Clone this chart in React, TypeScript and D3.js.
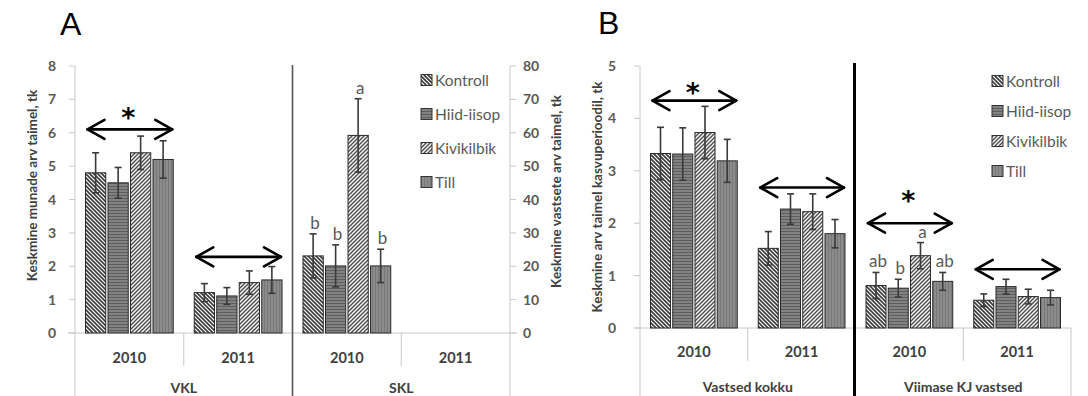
import React from "react";
import * as d3 from "d3";

// Treatments and seasons shared by every panel
const treatments = ["Kontroll", "Hiid-iisop", "Kivikilbik", "Till"];
const years = ["2010", "2011"];

// A, left axis: eggs per plant (VKL)
const vklMeans = [[4.8, 4.5, 5.4, 5.2], [1.21, 1.11, 1.51, 1.59]];
const vklErrors = [[0.6, 0.46, 0.5, 0.56], [0.27, 0.25, 0.35, 0.4]];
const vklArrows = [6.1, 2.28];
const vklStar = 6.6;

// A, right axis: larvae per plant (SKL); no 2011 data
const sklMeans = [[23.1, 20.1, 59.2, 20.1], []];
const sklErrors = [[6.6, 6.3, 11, 5], []];
const sklLetters = [["b", "b", "a", "b"], []];

// B: larvae per plant over the season
const kokkuMeans = [[3.33, 3.32, 3.73, 3.19], [1.52, 2.27, 2.22, 1.8]];
const kokkuErrors = [[0.5, 0.5, 0.5, 0.41], [0.32, 0.29, 0.34, 0.27]];
const kokkuArrows = [4.34, 2.68];
const kokkuStar = 4.58;

const viimaseMeans = [[0.81, 0.76, 1.38, 0.89], [0.53, 0.79, 0.6, 0.58]];
const viimaseErrors = [[0.25, 0.17, 0.25, 0.17], [0.12, 0.14, 0.14, 0.14]];
const viimaseLetters = [["ab", "b", "a", "ab"], []];
const viimaseArrows = [2.0, 1.12];
const viimaseStar = 2.51;

// Axis ticks
const ticksEggs = d3.range(0, 9, 1);
const ticksSkl = d3.range(0, 81, 10);
const ticksB = d3.range(0, 6, 1);

const FONT = "Lato, 'Open Sans', 'Liberation Sans', sans-serif";
const AXIS = "#c8c8c8";
const TXT = "#595959";
const patternIds = ["pKontroll", "pHiid", "pKivi", "pTill"];

type Series = {
  group: string;
  means: number[][];
  errors: number[][];
  letters?: string[][];
  arrows?: number[];
  star?: number;
  y: d3.ScaleLinear<number, number>;
};

function Patterns() {
  return (
    <defs>
      <pattern id="pKontroll" patternUnits="userSpaceOnUse" width={4} height={4}>
        <rect width={4} height={4} fill="#ffffff" />
        <path d="M-1,-1 L5,5 M3,-1 L5,1 M-1,3 L1,5" stroke="#3a3a3a" strokeWidth={1.6} />
      </pattern>
      <pattern id="pHiid" patternUnits="userSpaceOnUse" width={4} height={3}>
        <rect width={4} height={3} fill="#828282" />
        <rect y={0} width={4} height={1} fill="#5e5e5e" />
      </pattern>
      <pattern id="pKivi" patternUnits="userSpaceOnUse" width={4} height={4}>
        <rect width={4} height={4} fill="#f4f4f4" />
        <path d="M-1,5 L5,-1 M-1,1 L1,-1 M3,5 L5,3" stroke="#4a4a4a" strokeWidth={1.3} />
      </pattern>
      <pattern id="pTill" patternUnits="userSpaceOnUse" width={3} height={4}>
        <rect width={3} height={4} fill="#8c8c8c" />
        <rect x={0} width={1} height={4} fill="#777777" />
      </pattern>
    </defs>
  );
}

function Arrow({ x1, x2, y }: { x1: number; x2: number; y: number }) {
  const hx = 17;
  const hy = 9.5;
  return (
    <g stroke="#000" strokeWidth={2.6} fill="none" strokeLinecap="round" strokeLinejoin="round">
      <line x1={x1} x2={x2} y1={y} y2={y} />
      <path d={`M${x1 + hx},${y - hy} L${x1},${y} L${x1 + hx},${y + hy}`} />
      <path d={`M${x2 - hx},${y - hy} L${x2},${y} L${x2 - hx},${y + hy}`} />
    </g>
  );
}

function Categories({
  left,
  right,
  y0,
  series,
  yearBaseline,
  groupBaseline,
}: {
  left: number;
  right: number;
  y0: number;
  series: Series[];
  yearBaseline: number;
  groupBaseline: number;
}) {
  const cats = series.flatMap((s) => years.map((yr) => `${s.group}|${yr}`));
  const xCat = d3.scaleBand<string>().domain(cats).range([left, right]);
  const cw = xCat.bandwidth();
  const inner = d3.scaleBand<string>().domain(treatments).range([10.5, cw - 10.5]).paddingInner(0.1);
  const bw = inner.bandwidth();

  return (
    <g>
      {series.map((s) => (
        <g key={s.group}>
          {years.map((yr, yi) => {
            const cx = xCat(`${s.group}|${yr}`)!;
            const means = s.means[yi];
            const errs = s.errors[yi];
            const letters = s.letters ? s.letters[yi] : [];
            return (
              <g key={yr}>
                {means.map((m, ti) => {
                  const bx = cx + inner(treatments[ti])!;
                  const mid = bx + bw / 2;
                  const top = s.y(m + errs[ti]);
                  const bot = s.y(m - errs[ti]);
                  return (
                    <g key={ti}>
                      <rect
                        x={bx}
                        y={s.y(m)}
                        width={bw}
                        height={y0 - s.y(m)}
                        fill={`url(#${patternIds[ti]})`}
                        stroke="#2a2a2a"
                        strokeWidth={1}
                      />
                      <g stroke="#3a3a3a" strokeWidth={1.6}>
                        <line x1={mid} x2={mid} y1={top} y2={bot} />
                        <line x1={mid - 3.5} x2={mid + 3.5} y1={top} y2={top} />
                        <line x1={mid - 3.5} x2={mid + 3.5} y1={bot} y2={bot} />
                      </g>
                      {letters && letters[ti] ? (
                        <text
                          x={mid + 2}
                          y={top - 5}
                          textAnchor="middle"
                          fontFamily={FONT}
                          fontSize={17}
                          fill={TXT}
                        >
                          {letters[ti]}
                        </text>
                      ) : null}
                    </g>
                  );
                })}
                {s.arrows ? (
                  <Arrow
                    x1={cx + inner(treatments[0])! + 2}
                    x2={cx + inner(treatments[3])! + bw - 1}
                    y={s.y(s.arrows[yi])}
                  />
                ) : null}
                {s.star !== undefined && yi === 0 ? (
                  <text
                    x={cx + cw / 2 - 1}
                    y={s.y(s.star) + 14}
                    textAnchor="middle"
                    fontFamily="'DejaVu Sans', sans-serif"
                    fontWeight="bold"
                    fontSize={27}
                    fill="#000"
                  >
                    *
                  </text>
                ) : null}
                <text
                  x={cx + cw / 2}
                  y={yearBaseline}
                  textAnchor="middle"
                  fontFamily={FONT}
                  fontWeight="bold"
                  fontSize={14.5}
                  fill="#404040"
                >
                  {yr}
                </text>
              </g>
            );
          })}
          <text
            x={xCat(`${s.group}|2010`)! + cw}
            y={groupBaseline}
            textAnchor="middle"
            fontFamily={FONT}
            fontWeight="bold"
            fontSize={14}
            fill="#404040"
          >
            {s.group}
          </text>
        </g>
      ))}
      {/* category dividers */}
      {series.map((s, si) => {
        const mid = xCat(`${s.group}|2011`)!;
        return <line key={si} x1={mid} x2={mid} y1={y0} y2={y0 + 33} stroke={AXIS} strokeWidth={1} />;
      })}
      {series.map((s, si) => {
        const edge = xCat(`${s.group}|2010`)!;
        return <line key={"e" + si} x1={edge} x2={edge} y1={y0} y2={396} stroke={AXIS} strokeWidth={1} />;
      })}
      <line x1={right} x2={right} y1={y0} y2={396} stroke={AXIS} strokeWidth={1} />
    </g>
  );
}

function Legend({ x, y, step }: { x: number; y: number; step: number }) {
  return (
    <g>
      {treatments.map((t, i) => (
        <g key={t} transform={`translate(${x},${y + i * step})`}>
          <rect x={0} y={-5.5} width={11} height={11} fill={`url(#${patternIds[i]})`} stroke="#333" strokeWidth={1} />
          <text x={14} y={5.5} fontFamily={FONT} fontSize={15.5} fill={TXT}>
            {t}
          </text>
        </g>
      ))}
    </g>
  );
}

function YAxis({
  x,
  y,
  ticks,
  side,
  top,
  y0,
  gap,
}: {
  x: number;
  y: d3.ScaleLinear<number, number>;
  ticks: number[];
  side: "left" | "right";
  top: number;
  y0: number;
  gap: number;
}) {
  const dir = side === "left" ? -1 : 1;
  return (
    <g>
      <line x1={x} x2={x} y1={top} y2={y0} stroke={AXIS} strokeWidth={1} />
      {ticks.map((t) => (
        <g key={t}>
          <line x1={x} x2={x + dir * 6} y1={y(t)} y2={y(t)} stroke={AXIS} strokeWidth={1} />
          <text
            x={x + dir * gap}
            y={y(t) + 5}
            textAnchor={side === "left" ? "end" : "start"}
            fontFamily={FONT}
            fontWeight="bold"
            fontSize={14}
            fill={TXT}
          >
            {t}
          </text>
        </g>
      ))}
    </g>
  );
}

export default function App() {
  // Panel A geometry
  const aLeft = 75;
  const aRight = 510;
  const aY0 = 333;
  const aTop = 66;
  const yEggs = d3.scaleLinear().domain([0, 8]).range([aY0, aTop]);
  const ySkl = d3.scaleLinear().domain([0, 80]).range([aY0, aTop]);

  // Panel B geometry
  const bLeft = 640;
  const bRight = 1071;
  const bY0 = 328;
  const bTop = 66;
  const yB = d3.scaleLinear().domain([0, 5]).range([bY0, bTop]);

  const seriesA: Series[] = [
    { group: "VKL", means: vklMeans, errors: vklErrors, arrows: vklArrows, star: vklStar, y: yEggs },
    { group: "SKL", means: sklMeans, errors: sklErrors, letters: sklLetters, y: ySkl },
  ];
  const seriesB: Series[] = [
    { group: "Vastsed kokku", means: kokkuMeans, errors: kokkuErrors, arrows: kokkuArrows, star: kokkuStar, y: yB },
    {
      group: "Viimase KJ vastsed",
      means: viimaseMeans,
      errors: viimaseErrors,
      letters: viimaseLetters,
      arrows: viimaseArrows,
      star: viimaseStar,
      y: yB,
    },
  ];
  const aMid = (aLeft + aRight) / 2;
  const bMid = (bLeft + bRight) / 2;

  return (
    <svg width={1088} height={396} style={{ position: "absolute", left: 0, top: 0, background: "#fff" }}>
      <Patterns />
      <rect width={1088} height={396} fill="#fff" />

      {/* Panel A */}
      <text x={60} y={35} fontFamily="'Liberation Sans', Arial, sans-serif" fontSize={32} fill="#000">
        A
      </text>
      <line x1={aLeft - 7} x2={aRight + 7} y1={aY0} y2={aY0} stroke={AXIS} strokeWidth={1} />
      <YAxis x={aLeft} y={yEggs} ticks={ticksEggs} side="left" top={aTop} y0={aY0} gap={19} />
      <YAxis x={aRight} y={ySkl} ticks={ticksSkl} side="right" top={aTop} y0={aY0} gap={13} />
      <Categories left={aLeft} right={aRight} y0={aY0} series={seriesA} yearBaseline={363} groupBaseline={393} />
      <line x1={aMid} x2={aMid} y1={65} y2={396} stroke="#555" strokeWidth={1.6} />
      <Legend x={421} y={80} step={34} />
      <text
        transform={`translate(37,${(aTop + aY0) / 2 - 14}) rotate(-90)`}
        textAnchor="middle"
        fontFamily={FONT}
        fontWeight="bold"
        fontSize={13.5}
        fill="#404040"
      >
        Keskmine munade arv taimel, tk
      </text>
      <text
        transform={`translate(561,${(aTop + aY0) / 2 - 8}) rotate(-90)`}
        textAnchor="middle"
        fontFamily={FONT}
        fontWeight="bold"
        fontSize={13.5}
        fill="#404040"
      >
        Keskmine vastsete arv taimel, tk
      </text>

      {/* Panel B */}
      <text x={598} y={34} fontFamily="'Liberation Sans', Arial, sans-serif" fontSize={32} fill="#000">
        B
      </text>
      <line x1={bLeft - 6} x2={bRight} y1={bY0} y2={bY0} stroke={AXIS} strokeWidth={1} />
      <YAxis x={bLeft} y={yB} ticks={ticksB} side="left" top={bTop} y0={bY0} gap={24} />
      <Categories left={bLeft} right={bRight} y0={bY0} series={seriesB} yearBaseline={357} groupBaseline={392} />
      <line x1={bMid - 1} x2={bMid - 1} y1={63} y2={396} stroke="#000" strokeWidth={3} />
      <Legend x={992} y={81} step={30} />
      <text
        transform={`translate(602,${(bTop + bY0) / 2}) rotate(-90)`}
        textAnchor="middle"
        fontFamily={FONT}
        fontWeight="bold"
        fontSize={13.5}
        fill="#404040"
      >
        Keskmine arv taimel kasvuperioodil, tk
      </text>
    </svg>
  );
}
